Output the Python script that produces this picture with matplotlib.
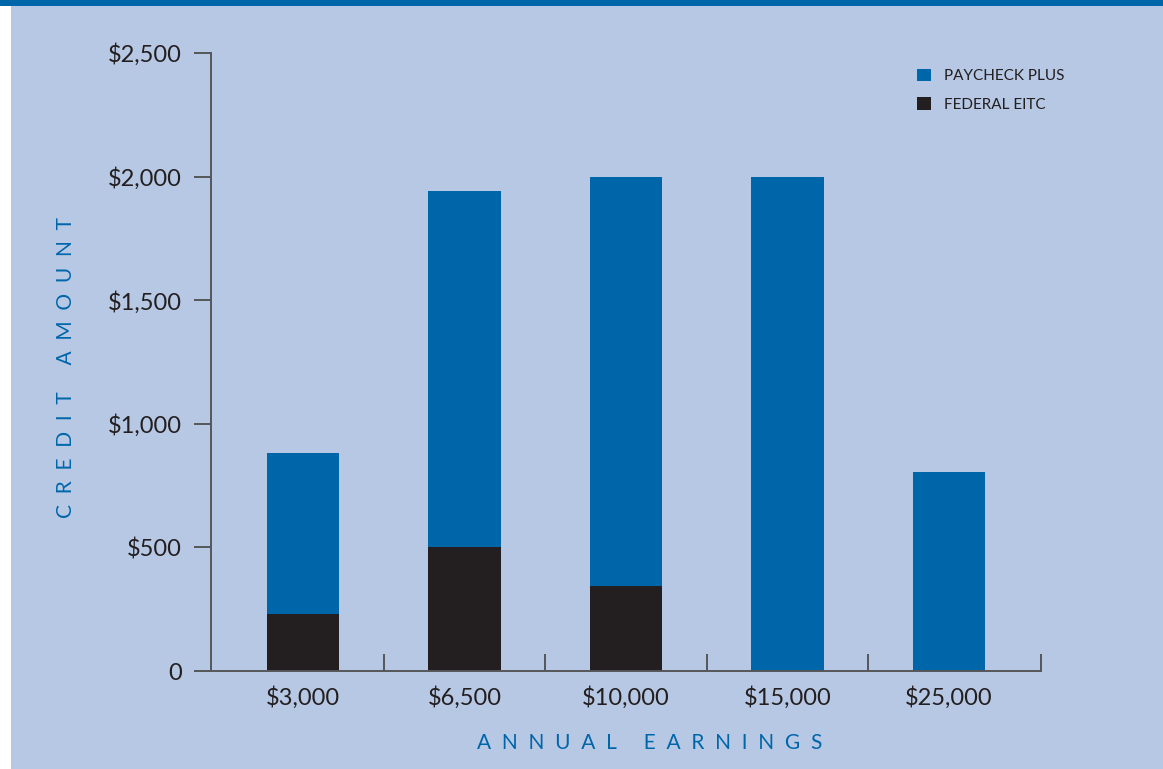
import matplotlib.pyplot as plt
from matplotlib.patches import Rectangle

# data
earnings = ['$3,000', '$6,500', '$10,000', '$15,000', '$25,000']
eitc = [230, 500, 345, 0, 0]
paycheck_plus = [650, 1440, 1655, 2000, 805]
yticks = [0, 500, 1000, 1500, 2000, 2500]
ytick_labels = ['0', '$500', '$1,000', '$1,500', '$2,000', '$2,500']

blue = '#0066aa'
dark = '#231f20'
bg = '#b7c8e4'
axis_col = '#55565a'

plt.rcParams['font.family'] = ['Lato', 'DejaVu Sans']


def spaced(s):
    # wide letter spacing like the original typesetting
    return '     '.join('  '.join(w) for w in s.split())


fig = plt.figure(figsize=(11.63, 7.69), dpi=100, facecolor='white')
# light blue panel + dark blue band at the top
fig.patches.append(Rectangle((11 / 1163, 0), 1 - 11 / 1163, 1, transform=fig.transFigure,
                             facecolor=bg, edgecolor='none', zorder=-2))
fig.patches.append(Rectangle((0, 1 - 6 / 769), 1, 6 / 769, transform=fig.transFigure,
                             facecolor=blue, edgecolor='none', zorder=-1))

ax = fig.add_axes([211 / 1163, 1 - 671 / 769, 830 / 1163, 618 / 769])
ax.set_facecolor('none')

x = range(len(earnings))
b1 = ax.bar(x, eitc, width=0.45, color=dark, zorder=2)
b2 = ax.bar(x, paycheck_plus, width=0.45, bottom=eitc, color=blue, zorder=2)

ax.set_xlim(-0.57, 4.57)
ax.set_ylim(0, 2500)

for s in ['top', 'right']:
    ax.spines[s].set_visible(False)
for s in ['left', 'bottom']:
    ax.spines[s].set_color(axis_col)
    ax.spines[s].set_linewidth(1.4)

ax.set_yticks(yticks)
ax.set_yticklabels(ytick_labels)
ax.tick_params(axis='y', direction='out', length=12, width=1.4, color=axis_col,
               labelsize=17, labelcolor=dark, pad=9)

ax.set_xticks(list(x))
ax.set_xticklabels(earnings)
ax.set_xticks([0.5, 1.5, 2.5, 3.5, 4.57], minor=True)
ax.tick_params(axis='x', which='major', length=0, labelsize=17, labelcolor=dark, pad=11)
ax.tick_params(axis='x', which='minor', direction='in', length=12, width=1.4, color=axis_col)

fig.text(66 / 1163, 1 - 368 / 769, spaced('CREDIT AMOUNT'), rotation=90,
         ha='center', va='center', color=blue, fontsize=15)
fig.text(650 / 1163, 1 - 743 / 769, spaced('ANNUAL EARNINGS'),
         ha='center', va='center', color=blue, fontsize=15)

fig.legend([b2, b1], ['PAYCHECK PLUS', 'FEDERAL EITC'], loc='upper left',
           bbox_to_anchor=(903 / 1163, 1 - 55 / 769), frameon=False,
           handlelength=0.9, handleheight=0.9, handletextpad=0.9,
           labelspacing=0.9, fontsize=11, labelcolor=dark)

fig.savefig('out.png', dpi=100, facecolor=fig.get_facecolor())
